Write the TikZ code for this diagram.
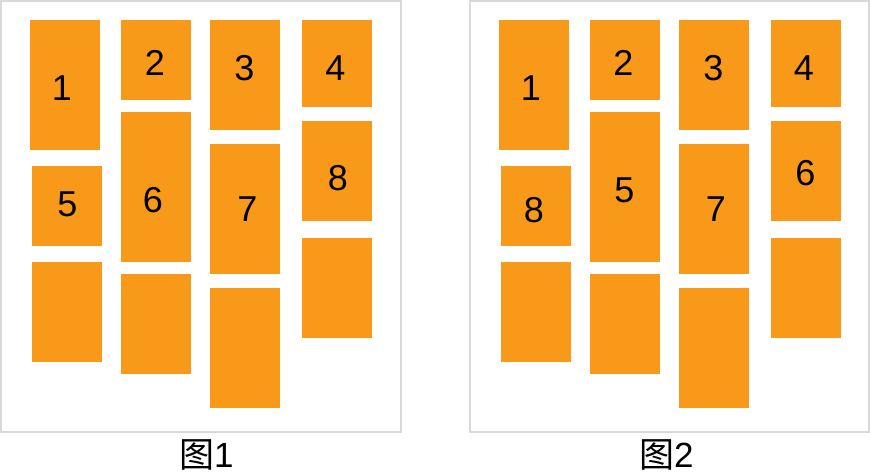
\documentclass[tikz,border=0pt]{standalone}
\usepackage{fontspec}
\setmainfont{Liberation Sans}
\newfontfamily\cjk{Noto Sans CJK SC}
\definecolor{cardorange}{HTML}{F8991A}
\definecolor{framegray}{HTML}{D9D9D9}
\begin{document}
\begin{tikzpicture}[x=1pt,y=-1pt,
  card/.style={fill=cardorange},
  panelframe/.style={draw=framegray,line width=2pt},
  num/.style={font=\fontsize{36}{40}\selectfont,inner sep=0pt,anchor=base,text=black},
  figcaption/.style={font=\fontsize{35}{40}\selectfont,inner sep=0pt,text depth=3pt,text height=28pt,anchor=base west,text=black}]
\useasboundingbox (0,0) rectangle (871,472);
\fill[white] (0,0) rectangle (871,472);
% frames
\draw[panelframe] (1,1) rectangle (401,432);
\draw[panelframe] (470,1) rectangle (869,432);
% cards of both figures (same layout, offset 469)
\foreach \o in {0,469}{
  \fill[card] (30+\o,20) rectangle (100+\o,150);
  \fill[card] (32+\o,166) rectangle (102+\o,246);
  \fill[card] (32+\o,262) rectangle (102+\o,362);
  \fill[card] (121+\o,20) rectangle (191+\o,100);
  \fill[card] (121+\o,112) rectangle (191+\o,262);
  \fill[card] (121+\o,274) rectangle (191+\o,374);
  \fill[card] (210+\o,20) rectangle (280+\o,130);
  \fill[card] (210+\o,144) rectangle (280+\o,274);
  \fill[card] (210+\o,288) rectangle (280+\o,408);
  \fill[card] (302+\o,20) rectangle (372+\o,107);
  \fill[card] (302+\o,121) rectangle (372+\o,221);
  \fill[card] (302+\o,238) rectangle (372+\o,338);
}
% labels figure 1
\node[num] (a1) at (62,100) {1};
\node[num] (a2) at (155,75) {2};
\node[num] (a3) at (244.5,80) {3};
\node[num] (a4) at (335.5,80) {4};
\node[num] (a5) at (67.5,216.5) {5};
\node[num] (a6) at (153,212.5) {6};
\node[num] (a7) at (247.5,221) {7};
\node[num] (a8) at (338,190) {8};
% labels figure 2
\node[num] (b1) at (531,100) {1};
\node[num] (b2) at (623.5,75) {2};
\node[num] (b3) at (713.5,80) {3};
\node[num] (b4) at (804,80) {4};
\node[num] (b8) at (534,222) {8};
\node[num] (b5) at (624.5,202) {5};
\node[num] (b7) at (716,221) {7};
\node[num] (b6) at (805.5,185) {6};
% captions
\node[figcaption] (c1) at (179,467) {{\cjk 图}1};
\node[figcaption] (c2) at (639,467) {{\cjk 图}2};
\end{tikzpicture}
\end{document}
